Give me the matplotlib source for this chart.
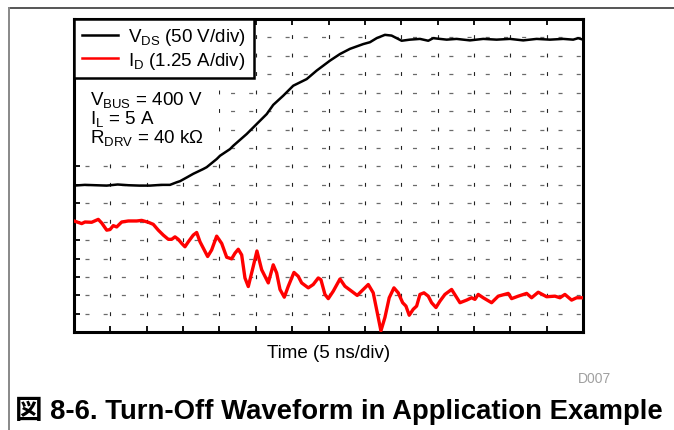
import matplotlib
matplotlib.use("Agg")
import matplotlib.pyplot as plt
from matplotlib.lines import Line2D
from matplotlib.patches import Rectangle

plt.rcParams['font.family'] = ['Liberation Sans', 'Noto Sans CJK JP', 'DejaVu Sans']
plt.rcParams['mathtext.fontset'] = 'custom'
plt.rcParams['mathtext.rm'] = 'Liberation Sans'
plt.rcParams['lines.scale_dashes'] = False

# scope trace, time in ns (5 ns/div, 14 div)
vds_t = [0, 1.5, 3, 4.5, 6, 7.5, 9, 10.45, 12, 13.2, 14.12, 14.58, 15.5, 16.4, 17.78,
         18.25, 19.62, 20.08, 21.45, 21.9, 23.75, 25.58, 26.5, 27.4, 28.78, 30.15, 32.0,
         33.37, 35.2, 36.58, 37.95, 39.78, 40.7, 41.62, 42.76, 43.68, 44.37, 45.06, 46.2,
         47.58, 48.72, 49.4, 51.25, 52.62, 54.45, 56.28, 58.12, 59.95, 61.78, 63.62,
         65.45, 67.28, 68.65, 69.34, 70]
vds_v = [-2, 0, -1, -2, 1, -1, -2, -2, 0, 0, 7, 10, 20, 30, 43,
         48, 70, 79, 97, 106, 138, 174, 192, 217, 242, 269, 287,
         310, 337, 355, 369, 382, 387, 398, 407, 405, 398, 391, 394,
         396, 391, 398, 394, 396, 392, 396, 394, 396, 392, 396,
         394, 396, 394, 398, 394]

id_t = [0, 1.06, 1.51, 2.43, 3.34, 3.81, 4.5, 4.95, 5.4, 5.87, 6.56, 7.47, 8.62, 9.31,
        10.22, 10.9, 11.59, 12.28, 12.97, 13.43, 13.89, 14.34, 14.81, 15.26, 15.72,
        16.4, 16.87, 17.33, 18.38, 18.93, 19.62, 20.31, 21.0, 21.68, 22.14, 22.59,
        23.06, 23.51, 23.97, 24.65, 25.16, 25.81, 26.72, 27.4, 27.87, 28.33, 28.92,
        29.47, 30.25, 30.84, 31.31, 32.22, 32.9, 33.59, 33.96, 34.51, 34.97, 35.65,
        36.58, 37.26, 38.18, 38.95, 39.78, 40.47, 41.15, 41.7, 42.21, 42.76, 43.35,
        44.0, 44.59, 45.2, 45.65, 46.1, 46.65, 47.12, 47.58, 48.13, 48.72, 49.18,
        49.78, 50.33, 51.01, 51.93, 53.08, 54.0, 54.68, 55.14, 55.59, 56.28, 57.43,
        58.34, 59.72, 60.18, 61.09, 62.25, 62.93, 63.84, 65.0, 66.14, 66.83, 67.51,
        68.43, 69.12, 70.0]
id_a = [5.14, 4.96, 5.07, 5.05, 5.25, 5.0, 4.51, 4.55, 4.82, 4.73, 5.07, 5.14, 5.14, 5.18,
        5.05, 4.91, 4.51, 4.17, 3.88, 3.88, 4.05, 3.88, 3.6, 3.37, 3.71,
        4.17, 4.35, 3.71, 2.7, 3.15, 4.1, 3.6, 2.65, 2.54, 2.93, 3.2,
        2.81, 1.23, 0.64, 2.02, 3.08, 1.79, 0.89, 2.13, 1.57, 0.44, -0.09,
        0.66, 1.61, 1.34, 0.89, 0.55, 0.78, 1.23, 1.11, 0.1, -0.19, 0.32,
        1.16, 0.66, 0.32, 0.03, 0.44, 0.78, 0.21, -1.14, -2.4, -1.48, -0.13,
        0.55, 0.21, -0.47, -0.7, -1.33, -0.92, -0.7, 0.1, 0.21, -0.02, -0.47,
        -0.8, -0.36, 0.1, 0.44, -0.47, -0.29, -0.13, -0.24, 0.1, -0.13, -0.47,
        -0.02, 0.17, -0.19, -0.02, 0.17, -0.13, 0.25, -0.06, -0.02, -0.13, 0.1,
        -0.29, -0.13, -0.13]

conditions = ["V$_\\mathrm{BUS}$ = 400 V", "I$_\\mathrm{L}$ = 5 A", "R$_\\mathrm{DRV}$ = 40 k\u03a9"]
x_ticks = [5 * k for k in range(15)]
v_ticks = [-400 + 50 * k for k in range(18)]

fig = plt.figure(figsize=(6.74, 4.31), dpi=100)
ax = fig.add_axes([74 / 674, 1 - 333.3 / 431, 509 / 674, 313.3 / 431])
ax.set_xlim(0, 70)
ax.set_ylim(-400, 450)
ax.set_xticks(x_ticks)
ax.set_yticks(v_ticks)
ax.tick_params(direction='in', top=True, right=True, length=4, width=1.3,
               labelbottom=False, labelleft=False)
for s in ax.spines.values():
    s.set_linewidth(2.2)
ax.set_axisbelow(True)
ax.xaxis.grid(True, color='#222222', linewidth=0.8, linestyle=(1.5, (2.8, 10.5)))
ax.yaxis.grid(True, color='#6a6a6a', linewidth=0.9, linestyle=(5.2, (2.9, 10.2)))

# white patch behind the conditions text
ax.add_patch(Rectangle((0, 0.565), 0.285, 0.25, transform=ax.transAxes,
                       facecolor='white', edgecolor='none', zorder=1))
for i, s in enumerate(conditions):
    ypx = 101 + 19 * i
    ax.text(16 / 509, (333.3 - ypx) / 313.3, s, transform=ax.transAxes,
            fontsize=13.5, va='center', ha='left', zorder=3)

l1, = ax.plot(vds_t, vds_v, color='black', linewidth=1.8, zorder=2)

ax2 = ax.twinx()
ax2.set_ylim(-2.5, 19.0)
ax2.axis('off')
l2, = ax2.plot(id_t, id_a, color='red', linewidth=2.4)

leg = ax2.legend([l1, l2], ["V$_\\mathrm{DS}$ (50 V/div)", "I$_\\mathrm{D}$ (1.25 A/div)"],
                 loc='upper left', bbox_to_anchor=(0, 1), borderaxespad=0,
                 fancybox=False, framealpha=1, edgecolor='black', fontsize=13.5,
                 handlelength=1.95, handletextpad=0.55, borderpad=0.4,
                 labelspacing=0.12)
leg.get_frame().set_linewidth(1.8)
for h in leg.get_lines():
    h.set_linewidth(1.8)

fig.text(328.5 / 674, 1 - 353 / 431, "Time (5 ns/div)", fontsize=13.5,
         ha='center', va='center')
fig.text(611 / 674, 1 - 379 / 431, "D007", fontsize=10, color='#a0a0a0',
         ha='right', va='center')
fig.text(15 / 674, 1 - 411 / 431, "図 8-6. Turn-Off Waveform in Application Example",
         fontsize=19.8, fontweight='bold', ha='left', va='center')

# page rules
fig.add_artist(Line2D([9 / 674, 1], [1 - 9 / 431, 1 - 9 / 431], transform=fig.transFigure,
                      color='#555555', linewidth=1.4))
fig.add_artist(Line2D([9 / 674, 9 / 674], [0, 1 - 9 / 431], transform=fig.transFigure,
                      color='#888888', linewidth=1.4))

fig.savefig("out.png", dpi=100)
